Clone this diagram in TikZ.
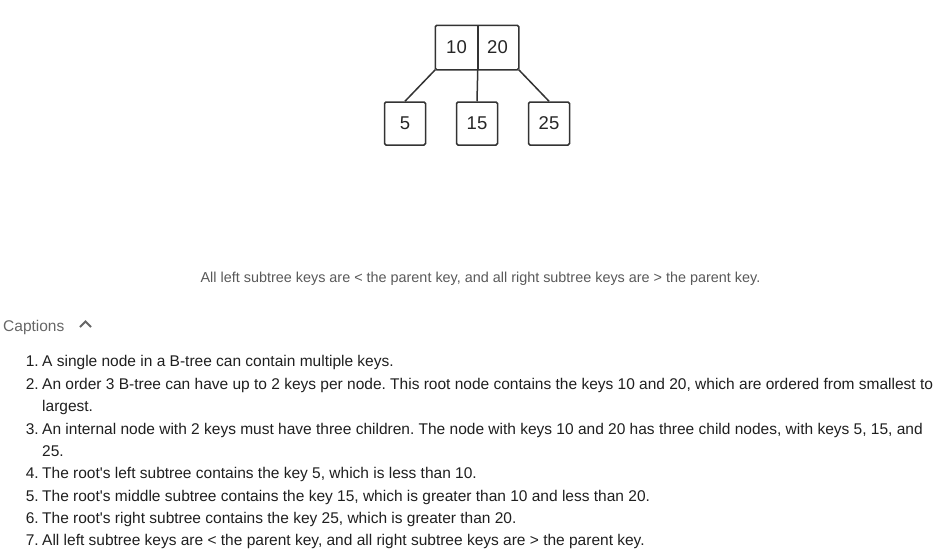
\documentclass[tikz,border=0pt]{standalone}
\usepackage{fontspec}
\setmainfont{Liberation Sans}
\frenchspacing
\newcommand{\apo}{\textquotesingle}
\begin{document}
\frenchspacing
\begin{tikzpicture}[x=1pt,y=-1pt,
  keybox/.style={draw=black!80,line width=1.5pt,rounded corners=1.5pt,minimum width=41pt,minimum height=43pt,inner sep=0pt,font=\fontsize{18.5}{21}\selectfont,text=black!85},
  edge/.style={draw=black!80,line width=1.5pt},
  item/.style={anchor=base west,inner sep=0pt,font=\fontsize{15.5}{18}\selectfont,text=black!88},
  num/.style={anchor=base east,inner sep=0pt,font=\fontsize{15.5}{18}\selectfont,text=black!88}]
\useasboundingbox (0,0) rectangle (944,557);
% tree
\node[keybox,draw=none] (k10) at (456.5,47.5) {10};
\node[keybox,draw=none] (k20) at (497.5,47.5) {20};
\draw[black!80,line width=1.5pt,rounded corners=1.5pt] (k10.north west) rectangle (k20.south east);
\draw[edge] (k10.north east) -- (k10.south east);
\node[keybox] (c5) at (405,123.5) {5};
\node[keybox] (c15) at (477,123.5) {15};
\node[keybox] (c25) at (549,123.5) {25};
\draw[edge] (k10.south west) -- (c5.north);
\draw[edge] (k10.south east) -- (c15.north);
\draw[edge] (k20.south east) -- (c25.north);
% caption
\node[anchor=base,inner sep=0pt,font=\fontsize{14.4}{17}\selectfont,text=black!65] (cap) at (480.5,282) {All left subtree keys are < the parent key, and all right subtree keys are > the parent key.};
% captions header
\node[anchor=base west,inner sep=0pt,font=\fontsize{15.5}{18}\selectfont,text=black!60] (hdr) at (3,331) {Captions};
\coordinate (chA) at (80,327);
\coordinate (chB) at (85.5,321.5);
\coordinate (chC) at (91,327);
\draw[black!60,line width=2pt] (chA) -- (chB) -- (chC);
% list
\node[num] (n1) at (39,366) {1.};
\node[item] (t1) at (42,366) {A single node in a B-tree can contain multiple keys.};
\node[num] (n2) at (39,389) {2.};
\node[item] (t2) at (42,389) {An order 3 B-tree can have up to 2 keys per node. This root node contains the keys 10 and 20, which are ordered from smallest to};
\node[item] (t2b) at (42,411) {largest.};
\node[num] (n3) at (39,434) {3.};
\node[item] (t3) at (42,434) {An internal node with 2 keys must have three children. The node with keys 10 and 20 has three child nodes, with keys 5, 15, and};
\node[item] (t3b) at (42,456) {25.};
\node[num] (n4) at (39,478) {4.};
\node[item] (t4) at (42,478) {The root\apo s left subtree contains the key 5, which is less than 10.};
\node[num] (n5) at (39,501) {5.};
\node[item] (t5) at (42,501) {The root\apo s middle subtree contains the key 15, which is greater than 10 and less than 20.};
\node[num] (n6) at (39,523) {6.};
\node[item] (t6) at (42,523) {The root\apo s right subtree contains the key 25, which is greater than 20.};
\node[num] (n7) at (39,545) {7.};
\node[item] (t7) at (42,545) {All left subtree keys are < the parent key, and all right subtree keys are > the parent key.};
\end{tikzpicture}
\end{document}
